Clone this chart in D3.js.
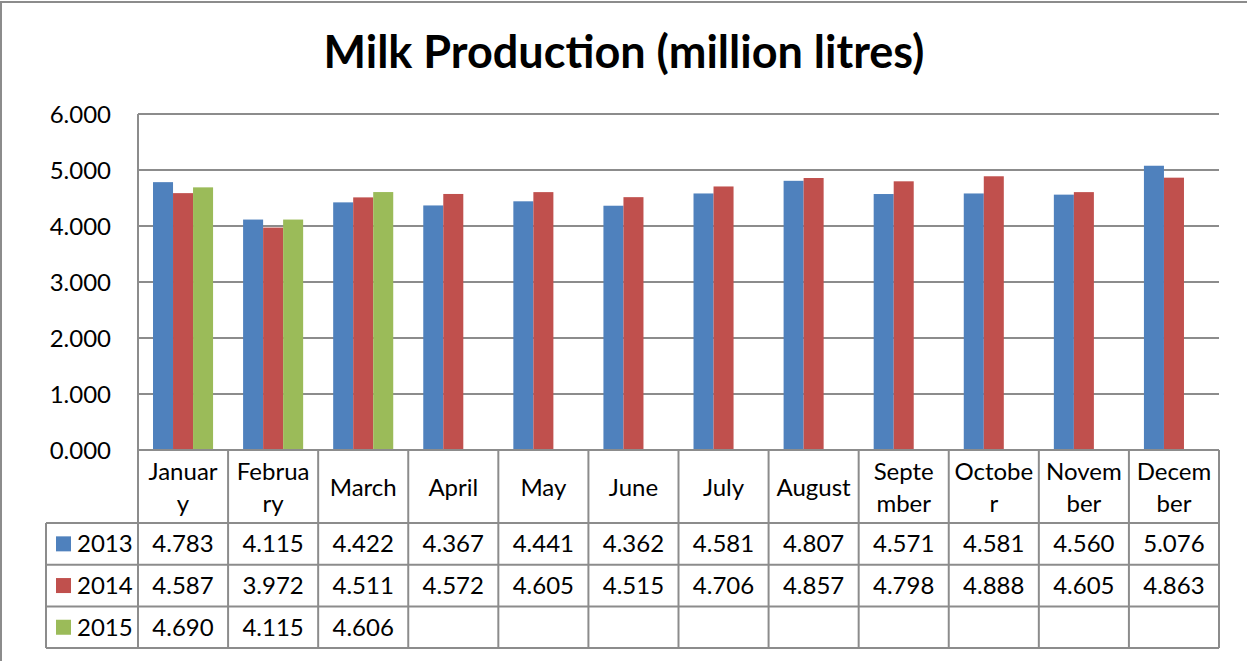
<!DOCTYPE html>
<html>
<head>
<meta charset="utf-8">
<script src="https://cdn.jsdelivr.net/npm/d3@7"></script>
<style>
  html, body { margin: 0; padding: 0; background: #fff; }
  svg { display: block; font-family: Lato, "Open Sans", sans-serif; }
</style>
</head>
<body>
<svg id="chart" width="1247" height="661"></svg>
<script>
// Monthly milk production, million litres
const months = ["January", "February", "March", "April", "May", "June",
  "July", "August", "September", "October", "November", "December"];
// Header text as it wraps inside the table cells
const monthLabels = [["Januar", "y"], ["Februa", "ry"], ["March"], ["April"], ["May"], ["June"],
  ["July"], ["August"], ["Septe", "mber"], ["Octobe", "r"], ["Novem", "ber"], ["Decem", "ber"]];
const seriesNames = ["2013", "2014", "2015"];
const values2013 = [4.783, 4.115, 4.422, 4.367, 4.441, 4.362, 4.581, 4.807, 4.571, 4.581, 4.560, 5.076];
const values2014 = [4.587, 3.972, 4.511, 4.572, 4.605, 4.515, 4.706, 4.857, 4.798, 4.888, 4.605, 4.863];
const values2015 = [4.690, 4.115, 4.606, null, null, null, null, null, null, null, null, null];
const yTicks = [0, 1, 2, 3, 4, 5, 6];
const colors = ["#4F81BD", "#C0504D", "#9BBB59"];

const series = [values2013, values2014, values2015];

const svg = d3.select("#chart");
const W = 1247, H = 661;
const plot = { left: 138, right: 1219, top: 114, bottom: 450 };
const headerH = 73, rowH = 41.7, legendLeft = 46;
const lineColor = "#8c8c8c";
const fs = 24;

// outer frame
svg.append("rect").attr("x", 1).attr("y", 2).attr("width", W + 10).attr("height", H + 10)
  .attr("fill", "none").attr("stroke", "#8c8c8c").attr("stroke-width", 2);

// title
svg.append("text").attr("x", 624).attr("y", 68).attr("text-anchor", "middle")
  .attr("font-size", 45).attr("font-weight", "bold").attr("fill", "#000")
  .text("Milk Production (million litres)");

const x = d3.scaleBand().domain(months).range([plot.left, plot.right]);
// bars occupy the middle two-thirds of each month slot
const xInner = d3.scaleBand().domain(seriesNames).range([x.bandwidth() / 6, x.bandwidth() * 5 / 6]);
const y = d3.scaleLinear().domain([0, 6]).range([plot.bottom, plot.top]);

// gridlines
svg.append("g").selectAll("line").data(yTicks.filter(d => d > 0)).join("line")
  .attr("x1", plot.left).attr("x2", plot.right)
  .attr("y1", d => y(d)).attr("y2", d => y(d))
  .attr("stroke", lineColor).attr("stroke-width", 2);

// y axis labels
const yAxis = d3.axisLeft(y).tickValues(yTicks).tickFormat(d3.format(".3f")).tickSize(0).tickPadding(0);
const gy = svg.append("g").attr("transform", `translate(${plot.left - 27},0)`).call(yAxis);
gy.select(".domain").remove();
gy.selectAll("text").attr("font-size", fs).attr("fill", "#000").attr("font-family", "Lato, sans-serif")
  .attr("dy", "0.35em");

// bars
months.forEach((m, i) => {
  series.forEach((vals, s) => {
    const v = vals[i];
    if (v == null) return;
    svg.append("rect")
      .attr("x", x(m) + xInner(seriesNames[s]))
      .attr("y", y(v))
      .attr("width", xInner.bandwidth())
      .attr("height", y(0) - y(v))
      .attr("fill", colors[s]);
  });
});

// y axis line
svg.append("line").attr("x1", plot.left).attr("x2", plot.left)
  .attr("y1", plot.top).attr("y2", plot.bottom).attr("stroke", lineColor).attr("stroke-width", 2);

// data table
const tableTop = plot.bottom;
const rowsTop = tableTop + headerH;
const tableBottom = rowsTop + rowH * seriesNames.length;
const tg = svg.append("g");

// horizontal rules
tg.append("line").attr("x1", plot.left).attr("x2", plot.right).attr("y1", tableTop).attr("y2", tableTop)
  .attr("stroke", lineColor).attr("stroke-width", 2);
for (let r = 0; r <= seriesNames.length; r++) {
  const yy = rowsTop + r * rowH;
  tg.append("line").attr("x1", legendLeft).attr("x2", plot.right).attr("y1", yy).attr("y2", yy)
    .attr("stroke", lineColor).attr("stroke-width", 2);
}
// vertical rules
months.forEach(m => {
  tg.append("line").attr("x1", x(m)).attr("x2", x(m)).attr("y1", tableTop).attr("y2", tableBottom)
    .attr("stroke", lineColor).attr("stroke-width", 2);
});
tg.append("line").attr("x1", plot.right).attr("x2", plot.right).attr("y1", tableTop).attr("y2", tableBottom)
  .attr("stroke", lineColor).attr("stroke-width", 2);
tg.append("line").attr("x1", legendLeft).attr("x2", legendLeft).attr("y1", rowsTop).attr("y2", tableBottom)
  .attr("stroke", lineColor).attr("stroke-width", 2);

// month headers
months.forEach((m, i) => {
  const lines = monthLabels[i];
  const cx = x(m) + x.bandwidth() / 2;
  const lh = 32;
  const y0 = tableTop + headerH / 2 + 1 - (lines.length - 1) * lh / 2;
  lines.forEach((t, k) => {
    tg.append("text").attr("x", cx).attr("y", y0 + k * lh).attr("dy", "0.35em")
      .attr("text-anchor", "middle").attr("font-size", fs).attr("fill", "#000").text(t);
  });
});

// series rows
seriesNames.forEach((name, s) => {
  const cy = rowsTop + s * rowH + rowH / 2;
  tg.append("rect").attr("x", 56).attr("y", cy - 7.5).attr("width", 15).attr("height", 15).attr("fill", colors[s]);
  tg.append("text").attr("x", 77).attr("y", cy).attr("dy", "0.35em").attr("font-size", fs)
    .attr("fill", "#000").text(name);
  series[s].forEach((v, i) => {
    if (v == null) return;
    tg.append("text").attr("x", x(months[i]) + x.bandwidth() / 2).attr("y", cy).attr("dy", "0.35em")
      .attr("text-anchor", "middle").attr("font-size", fs).attr("fill", "#000").text(d3.format(".3f")(v));
  });
});
</script>
</body>
</html>
